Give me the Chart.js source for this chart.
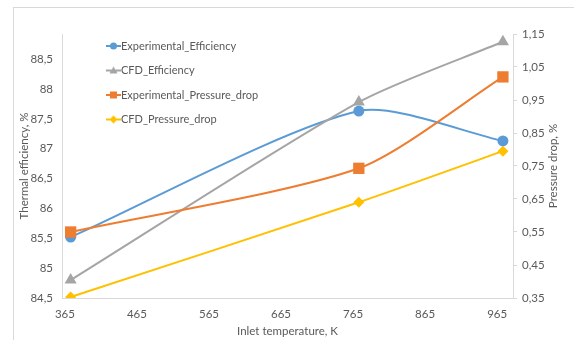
<!DOCTYPE html>
<html>
<head>
<meta charset="utf-8">
<script src="https://cdn.jsdelivr.net/npm/chart.js@4/dist/chart.umd.min.js"></script>
<style>
  body { margin: 0; background: #fff; }
  #frame { position: absolute; left: 13px; top: 7px; width: 620px; height: 400px; border: 1px solid #d9d9d9; }
  #wrap { position: absolute; left: 0; top: 0; width: 574px; height: 340px; }
</style>
</head>
<body>
<div id="frame"></div>
<div id="wrap"><canvas id="chart" width="574" height="340"></canvas></div>
<script>
// data
const temps = [373, 773, 973];
const expEfficiency = [85.52, 87.63, 87.13];
const cfdEfficiency = [84.8, 87.78, 88.79];
const expPressureDrop = [0.55, 0.743, 1.02];
const cfdPressureDrop = [0.353, 0.64, 0.795];

const xTicks = [365, 465, 565, 665, 765, 865, 965];
const effTicks = [84.5, 85, 85.5, 86, 86.5, 87, 87.5, 88, 88.5];
const dropTicks = [0.35, 0.45, 0.55, 0.65, 0.75, 0.85, 0.95, 1.05, 1.15];

const seriesNames = ['Experimental_Efficiency', 'CFD_Efficiency', 'Experimental_Pressure_drop', 'CFD_Pressure_drop'];
const colors = ['#5B9BD5', '#A5A5A5', '#ED7D31', '#FFC000'];

const textColor = '#595959';
const axisColor = '#d9d9d9';
const font = { family: 'Lato, "Open Sans", sans-serif', size: 11.5 };
const legendFont = { family: 'Lato, "Open Sans", sans-serif', size: 11 };

const pts = (xs, ys) => xs.map((x, i) => ({ x: x, y: ys[i] }));
const comma = (v, d) => v.toFixed(d).replace('.', ',');

// small line + marker pictures for the legend
function marker(color, shape) {
  const c = document.createElement('canvas');
  c.width = 15; c.height = 12;
  const g = c.getContext('2d');
  g.strokeStyle = color; g.fillStyle = color; g.lineWidth = 2;
  g.beginPath(); g.moveTo(0, 6); g.lineTo(15, 6); g.stroke();
  g.beginPath();
  if (shape === 'circle') g.arc(7.5, 6, 3.5, 0, Math.PI * 2);
  if (shape === 'triangle') { g.moveTo(7.5, 2); g.lineTo(11.5, 9); g.lineTo(3.5, 9); g.closePath(); }
  if (shape === 'rect') g.rect(4, 2.5, 7, 7);
  if (shape === 'rectRot') { g.moveTo(7.5, 2); g.lineTo(11.5, 6); g.lineTo(7.5, 10); g.lineTo(3.5, 6); g.closePath(); }
  g.fill();
  return c;
}
const shapes = ['circle', 'triangle', 'rect', 'rectRot'];
const legendMarks = shapes.map((s, i) => marker(colors[i], s));

// put the legend box inside the plot, top left
const legendShift = {
  id: 'legendShift',
  afterLayout(chart) {
    chart.legend.left = chart.chartArea.left + 36;
    chart.legend.top = chart.chartArea.top - 7;
  }
};

// right axis title reads bottom to top, like the left one
const rightTitle = {
  id: 'rightTitle',
  afterDraw(chart) {
    const g = chart.ctx;
    g.save();
    g.fillStyle = textColor;
    g.font = font.size + 'px ' + font.family;
    g.textAlign = 'center';
    g.textBaseline = 'middle';
    g.translate(553, (chart.chartArea.top + chart.chartArea.bottom) / 2);
    g.rotate(-Math.PI / 2);
    g.fillText('Pressure drop, %', 0, 0);
    g.restore();
  }
};

new Chart(document.getElementById('chart'), {
  type: 'line',
  data: {
    datasets: [
      { label: seriesNames[0], data: pts(temps, expEfficiency), yAxisID: 'yEff', borderColor: colors[0], backgroundColor: colors[0], pointStyle: 'circle', pointRadius: 5.5, order: 4 },
      { label: seriesNames[1], data: pts(temps, cfdEfficiency), yAxisID: 'yEff', borderColor: colors[1], backgroundColor: colors[1], pointStyle: 'triangle', pointRadius: 7, order: 3 },
      { label: seriesNames[2], data: pts(temps, expPressureDrop), yAxisID: 'yDrop', borderColor: colors[2], backgroundColor: colors[2], pointStyle: 'rect', pointRadius: 8, order: 2 },
      { label: seriesNames[3], data: pts(temps, cfdPressureDrop), yAxisID: 'yDrop', borderColor: colors[3], backgroundColor: colors[3], pointStyle: 'rectRot', pointRadius: 5.5, order: 1 }
    ]
  },
  options: {
    responsive: false,
    animation: false,
    events: [],
    layout: { padding: { left: 16, right: 14, top: 34, bottom: 2 } },
    elements: {
      line: { borderWidth: 2, tension: 0.25, fill: false },
      point: { borderWidth: 0, hoverRadius: 0 }
    },
    plugins: {
      tooltip: { enabled: false },
      legend: {
        position: 'chartArea',
        align: 'start',
        labels: {
          usePointStyle: true,
          pointStyleWidth: 4,
          padding: 13.5,
          color: textColor,
          font: legendFont,
          generateLabels: chart => chart.data.datasets.map((ds, i) => ({
            text: ds.label,
            pointStyle: legendMarks[i],
            fillStyle: ds.backgroundColor,
            strokeStyle: ds.borderColor,
            lineWidth: 0,
            hidden: false,
            datasetIndex: i,
            fontColor: textColor
          }))
        }
      }
    },
    scales: {
      x: {
        type: 'linear',
        min: 361,
        max: 987,
        afterBuildTicks: s => { s.ticks = xTicks.map(v => ({ value: v })); },
        afterFit: s => { s.height = 40; },
        ticks: { color: textColor, font: font, padding: 9, maxRotation: 0, callback: v => String(v) },
        grid: { display: true, drawOnChartArea: false, drawTicks: false, color: axisColor },
        border: { color: axisColor },
        title: { display: true, text: 'Inlet temperature, K', color: textColor, font: font, padding: { top: 0, bottom: 0 } }
      },
      yEff: {
        position: 'left',
        min: 84.5,
        max: 88.92,
        afterBuildTicks: s => { s.ticks = effTicks.map(v => ({ value: v })); },
        afterFit: s => { s.width = 46; },
        ticks: { color: textColor, font: font, padding: 9, callback: v => comma(v, v % 1 ? 1 : 0) },
        grid: { display: true, drawOnChartArea: false, drawTicks: false, color: axisColor },
        border: { color: axisColor },
        title: { display: true, text: 'Thermal efficiency, %', color: textColor, font: font, padding: { top: 1, bottom: 0 } }
      },
      yDrop: {
        position: 'right',
        min: 0.35,
        max: 1.15,
        afterBuildTicks: s => { s.ticks = dropTicks.map(v => ({ value: v })); },
        afterFit: s => { s.width = 47; },
        ticks: { color: textColor, font: font, padding: 5, callback: v => comma(v, 2) },
        grid: { display: true, drawOnChartArea: false, drawTicks: true, tickLength: 4, color: axisColor },
        border: { color: axisColor }
      }
    }
  },
  plugins: [legendShift, rightTitle]
});
</script>
</body>
</html>
